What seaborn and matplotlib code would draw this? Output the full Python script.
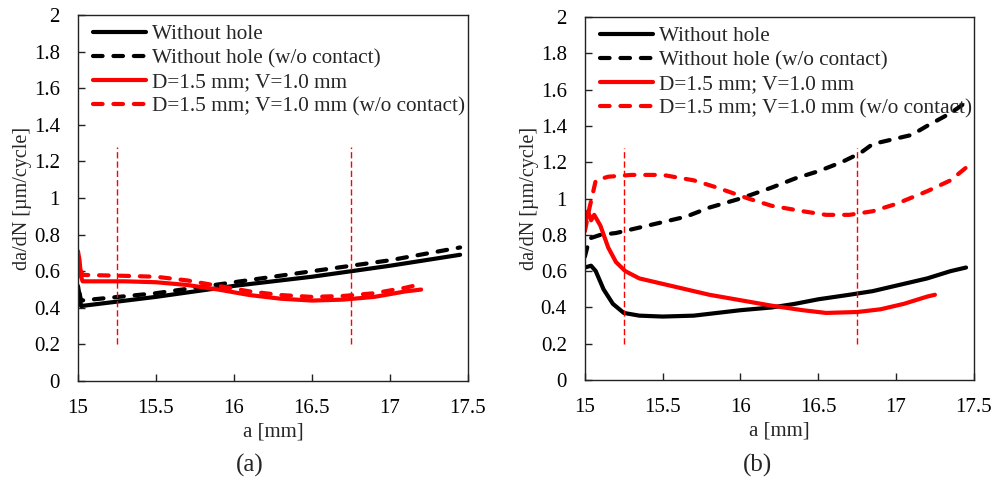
import numpy as np
import pandas as pd
import matplotlib
matplotlib.use("Agg")
import matplotlib.pyplot as plt
import seaborn as sns

# ---- panel (a) ----
a_nohole_x = [15.0, 15.01, 15.02, 15.5, 16.0, 16.5, 17.0, 17.45]
a_nohole_y = [0.52, 0.47, 0.41, 0.46, 0.52, 0.57, 0.63, 0.69]
a_nohole_nc_x = [15.01, 15.02, 15.5, 16.0, 16.5, 17.0, 17.45]
a_nohole_nc_y = [0.48, 0.44, 0.48, 0.54, 0.60, 0.66, 0.73]
a_hole_x = [15.0, 15.01, 15.02, 15.03, 15.3, 15.5, 15.7, 15.9, 16.1, 16.3, 16.5, 16.7, 16.9, 17.1, 17.2]
a_hole_y = [0.71, 0.66, 0.57, 0.545, 0.545, 0.54, 0.525, 0.50, 0.47, 0.45, 0.44, 0.445, 0.46, 0.49, 0.50]
a_hole_nc_x = [15.02, 15.03, 15.3, 15.5, 15.7, 15.9, 16.1, 16.3, 16.5, 16.7, 16.9, 17.1, 17.2]
a_hole_nc_y = [0.60, 0.58, 0.575, 0.57, 0.55, 0.52, 0.49, 0.47, 0.46, 0.465, 0.48, 0.51, 0.53]

# ---- panel (b) ----
b_nohole_x = [15.0, 15.04, 15.07, 15.12, 15.18, 15.25, 15.35, 15.5, 15.7, 15.85, 16.0, 16.2,
              16.35, 16.5, 16.7, 16.85, 17.0, 17.2, 17.35, 17.45]
b_nohole_y = [0.62, 0.63, 0.60, 0.50, 0.42, 0.37, 0.355, 0.35, 0.355, 0.37, 0.385, 0.40,
              0.42, 0.445, 0.47, 0.49, 0.52, 0.56, 0.60, 0.62]
b_nohole_nc_x = [15.0, 15.03, 15.1, 15.2, 15.3, 15.5, 15.65, 15.8, 16.0, 16.2, 16.35, 16.5,
                 16.65, 16.77, 16.85, 17.0, 17.1, 17.2, 17.35, 17.45]
b_nohole_nc_y = [0.68, 0.78, 0.80, 0.81, 0.83, 0.87, 0.90, 0.95, 1.00, 1.06, 1.11, 1.15,
                 1.20, 1.25, 1.30, 1.33, 1.35, 1.40, 1.47, 1.53]
b_hole_x = [15.0, 15.02, 15.04, 15.06, 15.1, 15.15, 15.2, 15.26, 15.35, 15.5, 15.65, 15.8,
            16.0, 16.2, 16.4, 16.55, 16.75, 16.9, 17.05, 17.2, 17.25]
b_hole_y = [0.86, 0.93, 0.88, 0.91, 0.85, 0.73, 0.65, 0.60, 0.56, 0.53, 0.50, 0.47,
            0.44, 0.41, 0.385, 0.37, 0.375, 0.39, 0.42, 0.46, 0.47]
b_hole_nc_x = [15.0, 15.03, 15.07, 15.15, 15.3, 15.5, 15.7, 15.85, 16.05, 16.2, 16.4, 16.55,
               16.7, 16.85, 17.0, 17.2, 17.35, 17.45]
b_hole_nc_y = [0.82, 0.95, 1.10, 1.12, 1.13, 1.13, 1.10, 1.06, 1.00, 0.96, 0.93, 0.91,
               0.91, 0.93, 0.97, 1.04, 1.10, 1.17]

labels = ["Without hole", "Without hole (w/o contact)",
          "D=1.5 mm; V=1.0 mm", "D=1.5 mm; V=1.0 mm (w/o contact)"]
marker_lines_x = [15.25, 16.75]
marker_lines_y = [0.2, 1.28]

sns.set_style("ticks")
plt.rcParams["font.family"] = ["Liberation Serif", "DejaVu Serif"]

fig = plt.figure(figsize=(9.93, 4.83), dpi=100)
ax_a = fig.add_axes([0.0785, 0.211, 0.3927, 0.758])
ax_b = fig.add_axes([0.589, 0.213, 0.3917, 0.752])

styles = [("black", "-"), ("black", "--"), ("red", "-"), ("red", "--")]

def draw(ax, series, tag, tag_x):
    for (xs, ys), lab, (c, ls) in zip(series, labels, styles):
        df = pd.DataFrame({"a": xs, "v": ys})
        sns.lineplot(data=df, x="a", y="v", ax=ax, color=c, lw=3.0, label=lab,
                     estimator=None, sort=False)
        line = ax.get_lines()[-1]
        if ls == "--":
            line.set_dashes((2.3, 2.6))
            line.set_dash_capstyle("round")
    for xv in marker_lines_x:
        ax.plot([xv, xv], marker_lines_y, color="red", lw=1.0, ls=(0, (4.5, 2.2)))
    ax.set_xlim(15, 17.5)
    ax.set_ylim(0, 2)
    ax.set_xticks([15, 15.5, 16, 16.5, 17, 17.5])
    ax.set_xticklabels(["15", "15.5", "16", "16.5", "17", "17.5"])
    ax.set_yticks(np.arange(0, 2.01, 0.2))
    ax.set_yticklabels(["0", "0.2", "0.4", "0.6", "0.8", "1", "1.2", "1.4", "1.6", "1.8", "2"])
    ax.tick_params(direction="in", labelsize=15, length=5, width=1, pad=13,
                   colors="#222222", labelcolor="black")
    for s in ax.spines.values():
        s.set_visible(True)
        s.set_linewidth(1.0)
        s.set_color("#222222")
    ax.set_xlabel("a [mm]", fontsize=15, labelpad=3)
    ax.set_ylabel("da/dN [µm/cycle]", fontsize=14.5, labelpad=1)
    ax.legend(loc="upper left", bbox_to_anchor=(0.023, 0.992), frameon=False,
              fontsize=15.3, handlelength=2.5, handletextpad=0.25, labelspacing=0.2,
              borderaxespad=0.2, borderpad=0.1)
    fig.text(tag_x, 0.037, tag, ha="center", va="center", fontsize=18)

draw(ax_a, [(a_nohole_x, a_nohole_y), (a_nohole_nc_x, a_nohole_nc_y),
            (a_hole_x, a_hole_y), (a_hole_nc_x, a_hole_nc_y)], "(a)", 250 / 993)
draw(ax_b, [(b_nohole_x, b_nohole_y), (b_nohole_nc_x, b_nohole_nc_y),
            (b_hole_x, b_hole_y), (b_hole_nc_x, b_hole_nc_y)], "(b)", 757 / 993)

fig.savefig("out.png", dpi=100)
